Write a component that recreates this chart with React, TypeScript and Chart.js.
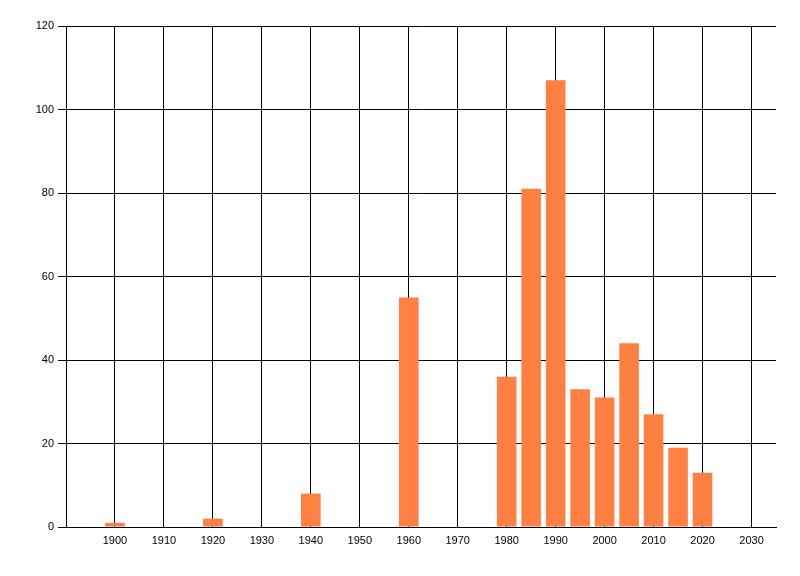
import React, { useEffect, useRef } from "react";
import { Chart, registerables } from "chart.js";

Chart.register(...registerables);

const years = [1900, 1920, 1940, 1960, 1980, 1985, 1990, 1995, 2000, 2005, 2010, 2015, 2020];
const counts = [1, 2, 8, 55, 36, 81, 107, 33, 31, 44, 27, 19, 13];
const xTickMin = 1900;
const xTickMax = 2030;
const xMin = 1890;
const xMax = 2035;
const yMax = 120;
const yStep = 20;

export default function App() {
  const ref = useRef<HTMLCanvasElement | null>(null);
  useEffect(() => {
    document.body.style.margin = "0";
    const ctx = ref.current!;
    const font = { family: "'Liberation Sans', Arial, sans-serif", size: 11 };
    const chart = new Chart(ctx, {
      type: "bar",
      data: {
        datasets: [
          {
            data: years.map((y, i) => ({ x: y, y: counts[i] })),
            backgroundColor: "#FF8040",
            borderWidth: 0,
            categoryPercentage: 1,
            barPercentage: 0.8,
          },
        ],
      },
      options: {
        animation: false,
        responsive: false,
        maintainAspectRatio: false,
        layout: { padding: { left: 0, top: 26, right: 24, bottom: 0 } },
        plugins: { legend: { display: false }, tooltip: { enabled: false } },
        scales: {
          x: {
            type: "linear",
            min: xMin,
            max: xMax,
            offset: false,
            afterBuildTicks: (scale: any) => {
              const t = [];
              for (let v = xTickMin; v <= xTickMax; v += 10) t.push({ value: v });
              scale.ticks = t;
            },
            afterFit: (scale: any) => {
              scale.height = 49;
            },
            ticks: {
              color: "#000",
              font,
              padding: 7,
              maxRotation: 0,
              autoSkip: false,
              callback: (v: any) => String(v),
            },
            grid: { color: "#000", lineWidth: 1, drawTicks: false, offset: false },
            border: { color: "#000", width: 1 },
          },
          y: {
            min: 0,
            max: yMax,
            afterFit: (scale: any) => {
              scale.width = 66;
            },
            ticks: { stepSize: yStep, color: "#000", font, padding: 4 },
            grid: { color: "#000", lineWidth: 1, drawTicks: true, tickLength: 8 },
            border: { color: "#000", width: 1 },
          },
        },
      },
    } as any);
    return () => chart.destroy();
  }, []);
  return <canvas ref={ref} width={800} height={576} style={{ display: "block" }} />;
}
